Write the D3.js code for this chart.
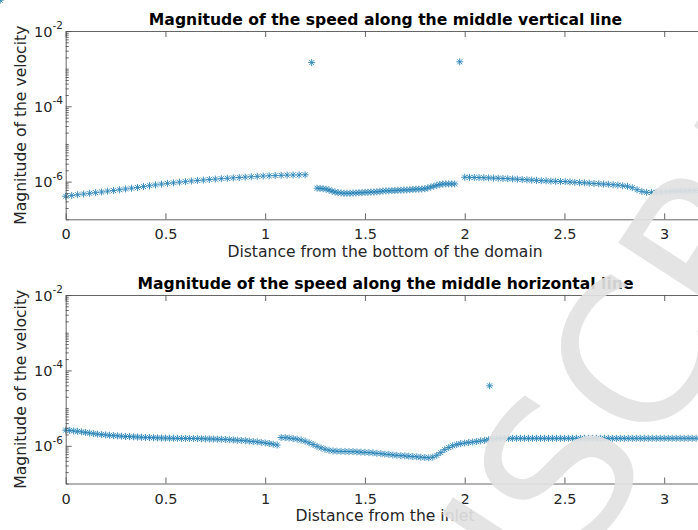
<!DOCTYPE html>
<html><head><meta charset="utf-8">
<script src="https://cdn.jsdelivr.net/npm/d3@7"></script>
<style>
html,body{margin:0;padding:0;background:#fff;}
svg{display:block;font-family:"DejaVu Sans",sans-serif;}
</style></head>
<body><svg id="c" width="698" height="530"></svg>
<script>
// ---------- DATA ----------
const titles = ["Magnitude of the speed along the middle vertical line",
                "Magnitude of the speed along the middle horizontal line"];
const xLabels = ["Distance from the bottom of the domain", "Distance from the inlet"];
const yLabel = "Magnitude of the velocity";
const xTicks = [0, 0.5, 1, 1.5, 2, 2.5, 3];
const xTickLabels = ["0", "0.5", "1", "1.5", "2", "2.5", "3"];
const yTickExps = [-2, -4, -6];

// vertical line profile
const topX = [
 0,0.03,0.06,0.09,0.12,0.15,0.18,0.21,0.24,0.27,0.30,0.33,0.36,0.39,0.42,0.45,0.48,0.51,0.54,0.57,
 0.60,0.63,0.66,0.69,0.72,0.75,0.78,0.81,0.84,0.87,0.90,0.93,0.96,0.99,1.02,1.05,1.08,1.11,1.14,1.17,1.20,
 1.233,
 1.260,1.275,1.290,1.305,1.320,1.335,1.350,1.365,1.380,1.395,1.410,1.425,1.440,1.455,1.470,1.485,
 1.500,1.515,1.530,1.545,1.560,1.575,1.590,1.605,1.620,1.635,1.650,1.665,1.680,1.695,1.710,1.725,
 1.740,1.755,1.770,1.785,1.800,1.815,1.830,1.845,1.860,1.875,1.890,1.905,1.920,1.935,1.950,
 1.975,
 2.000,2.024,2.048,2.072,2.096,2.120,2.144,2.168,2.192,2.216,2.240,2.264,2.288,2.312,2.336,2.360,
 2.384,2.408,2.432,2.456,2.480,2.504,2.528,2.552,2.576,2.600,2.624,2.648,2.672,2.696,2.720,2.744,
 2.768,2.792,2.816,2.840,2.864,2.888,2.912,2.936,2.960,2.984,3.008,3.032,3.056,3.080,3.104,3.128,
 3.152,3.176,3.200];
const topY = [
 4.1e-7,4.3e-7,4.5e-7,4.7e-7,4.9e-7,5.1e-7,5.3e-7,5.6e-7,5.8e-7,6.1e-7,6.4e-7,6.7e-7,7.0e-7,7.4e-7,7.8e-7,
 8.2e-7,8.6e-7,9.0e-7,9.3e-7,9.7e-7,1.00e-6,1.04e-6,1.07e-6,1.10e-6,1.14e-6,1.17e-6,1.20e-6,1.23e-6,1.26e-6,
 1.29e-6,1.32e-6,1.35e-6,1.38e-6,1.41e-6,1.43e-6,1.45e-6,1.47e-6,1.49e-6,1.50e-6,1.51e-6,1.52e-6,
 1.45e-3,
 6.7e-7,6.6e-7,6.5e-7,6.3e-7,6.0e-7,5.6e-7,5.3e-7,5.1e-7,5.0e-7,4.9e-7,4.9e-7,4.9e-7,5.0e-7,5.0e-7,5.1e-7,5.1e-7,
 5.2e-7,5.2e-7,5.3e-7,5.3e-7,5.4e-7,5.5e-7,5.6e-7,5.7e-7,5.7e-7,5.8e-7,5.8e-7,5.9e-7,5.9e-7,6.0e-7,6.0e-7,6.1e-7,
 6.2e-7,6.3e-7,6.3e-7,6.4e-7,6.5e-7,6.8e-7,7.2e-7,7.6e-7,8.0e-7,8.4e-7,8.6e-7,8.7e-7,8.7e-7,8.7e-7,8.7e-7,
 1.52e-3,
 1.31e-6,1.30e-6,1.29e-6,1.28e-6,1.27e-6,1.26e-6,1.24e-6,1.23e-6,1.21e-6,1.20e-6,1.18e-6,1.16e-6,1.14e-6,1.12e-6,
 1.10e-6,1.08e-6,1.06e-6,1.05e-6,1.03e-6,1.02e-6,1.01e-6,1.00e-6,9.8e-7,9.6e-7,9.4e-7,9.3e-7,9.1e-7,8.9e-7,8.8e-7,
 8.6e-7,8.5e-7,8.3e-7,8.1e-7,7.8e-7,7.5e-7,6.9e-7,6.1e-7,5.5e-7,5.2e-7,5.1e-7,5.2e-7,5.3e-7,5.4e-7,5.5e-7,5.6e-7,
 5.7e-7,5.7e-7,5.8e-7,5.8e-7,5.8e-7,5.8e-7];

// horizontal line profile
const botX = [
 0,0.02,0.04,0.06,0.08,0.10,0.12,0.14,0.16,0.18,0.20,0.22,0.24,0.26,0.28,0.30,0.32,0.34,0.36,0.38,
 0.40,0.42,0.44,0.46,0.48,0.50,0.52,0.54,0.56,0.58,0.60,0.62,0.64,0.66,0.68,0.70,0.72,0.74,0.76,0.78,
 0.80,0.82,0.84,0.86,0.88,0.90,0.92,0.94,0.96,0.98,1.00,1.02,1.04,1.06,
 1.08,1.10,1.12,1.14,1.16,1.18,1.20,1.22,1.24,1.26,1.28,1.30,1.32,1.34,1.36,1.38,1.40,1.42,1.44,1.46,
 1.48,1.50,1.52,1.54,1.56,1.58,1.60,1.62,1.64,1.66,1.68,1.70,1.72,1.74,1.76,1.78,1.80,1.82,1.84,1.86,
 1.88,1.90,1.92,1.94,1.96,1.98,2.00,2.02,2.04,2.06,2.08,2.10,2.12,2.125,2.14,
 2.16,2.18,2.20,2.22,2.24,2.26,2.28,2.30,2.32,2.34,2.36,2.38,2.40,2.42,2.44,2.46,2.48,2.50,2.52,2.54,
 2.56,2.58,2.60,2.62,2.64,2.66,2.68,2.70,2.72,2.74,2.76,2.78,2.80,2.82,2.84,2.86,2.88,2.90,2.92,2.94,
 2.96,2.98,3.00,3.02,3.04,3.06,3.08,3.10,3.12,3.14,3.16,3.18,3.20];
const botY = [
 2.60e-6,2.55e-6,2.48e-6,2.42e-6,2.34e-6,2.26e-6,2.18e-6,2.10e-6,2.04e-6,1.98e-6,1.94e-6,1.90e-6,1.86e-6,1.83e-6,
 1.80e-6,1.77e-6,1.75e-6,1.73e-6,1.71e-6,1.69e-6,1.67e-6,1.65e-6,1.64e-6,1.62e-6,1.61e-6,1.60e-6,1.59e-6,1.58e-6,
 1.58e-6,1.57e-6,1.57e-6,1.56e-6,1.56e-6,1.55e-6,1.54e-6,1.53e-6,1.52e-6,1.51e-6,1.50e-6,1.49e-6,1.47e-6,1.45e-6,
 1.43e-6,1.41e-6,1.39e-6,1.36e-6,1.33e-6,1.30e-6,1.27e-6,1.23e-6,1.19e-6,1.15e-6,1.10e-6,1.05e-6,
 1.66e-6,1.64e-6,1.60e-6,1.55e-6,1.50e-6,1.42e-6,1.32e-6,1.20e-6,1.08e-6,9.7e-7,8.8e-7,8.1e-7,7.6e-7,7.3e-7,
 7.2e-7,7.1e-7,7.1e-7,7.0e-7,7.0e-7,6.9e-7,6.8e-7,6.7e-7,6.6e-7,6.5e-7,6.3e-7,6.2e-7,6.0e-7,5.9e-7,5.7e-7,5.6e-7,
 5.5e-7,5.4e-7,5.3e-7,5.2e-7,5.1e-7,5.0e-7,4.9e-7,4.8e-7,5.0e-7,5.6e-7,6.6e-7,7.9e-7,9.0e-7,1.00e-6,1.08e-6,
 1.14e-6,1.18e-6,1.22e-6,1.26e-6,1.30e-6,1.35e-6,1.40e-6,1.45e-6,3.9e-5,1.52e-6,
 1.57e-6,1.58e-6,1.58e-6,1.58e-6,1.58e-6,1.58e-6,1.58e-6,1.58e-6,1.58e-6,1.58e-6,1.58e-6,1.58e-6,1.58e-6,1.58e-6,
 1.58e-6,1.58e-6,1.58e-6,1.58e-6,1.58e-6,1.58e-6,1.58e-6,1.58e-6,1.58e-6,1.58e-6,1.58e-6,1.58e-6,1.58e-6,1.58e-6,
 1.58e-6,1.58e-6,1.58e-6,1.58e-6,1.58e-6,1.58e-6,1.58e-6,1.58e-6,1.58e-6,1.58e-6,1.58e-6,1.58e-6,1.58e-6,1.58e-6,
 1.58e-6,1.58e-6,1.58e-6,1.58e-6,1.58e-6,1.58e-6,1.58e-6,1.58e-6,1.58e-6];

const watermark = "MANUSCRIPT";

// ---------- DRAW ----------
const svg = d3.select("#c");
const axisColor = "#555555", textColor = "#262626", markColor = "#2a84b8";
const left = 65.7, right = 704.1;
const panels = [
  {top: 31, bottom: 219.3, xs: topX, ys: topY, title: titles[0], xl: xLabels[0], titleY: 25, tickY: 239.5, xlY: 256.5},
  {top: 295, bottom: 483.5, xs: botX, ys: botY, title: titles[1], xl: xLabels[1], titleY: 288.5, tickY: 503.5, xlY: 521}
];

const asterisk = {
  draw(ctx, size) {
    const r = Math.sqrt(size) / 2, d = r * 0.7071;
    ctx.moveTo(-r, 0); ctx.lineTo(r, 0);
    ctx.moveTo(0, -r); ctx.lineTo(0, r);
    ctx.moveTo(-d, -d); ctx.lineTo(d, d);
    ctx.moveTo(-d, d); ctx.lineTo(d, -d);
  }
};
const sym = d3.symbol().type(asterisk).size(49);

const minorVals = [];
for (let e = -7; e < -2; e++) for (let k = 1; k < 10; k++) {
  const v = k * Math.pow(10, e);
  if (!(k === 1 && yTickExps.includes(e))) minorVals.push(v);
}

panels.forEach(p => {
  const x = d3.scaleLinear().domain([0, 3.2]).range([left, right]);
  const y = d3.scaleLog().domain([1e-7, 1e-2]).range([p.bottom, p.top]);
  const g = svg.append("g");

  // data
  g.append("g").selectAll("path").data(p.xs.map((v, i) => [v, p.ys[i]])).join("path")
    .attr("transform", d => `translate(${x(d[0])},${y(d[1])})`)
    .attr("d", sym).attr("fill", "none").attr("stroke", markColor).attr("stroke-width", 0.9);

  // x axes
  const xb = g.append("g").attr("transform", `translate(0,${p.bottom})`)
    .call(d3.axisBottom(x).tickValues(xTicks).tickFormat((d, i) => xTickLabels[i]).tickSizeInner(-6).tickSizeOuter(0).tickPadding(9.5));
  const xt = g.append("g").attr("transform", `translate(0,${p.top})`)
    .call(d3.axisTop(x).tickValues(xTicks).tickFormat("").tickSizeInner(-6).tickSizeOuter(0));
  // y axes
  const yl = g.append("g").attr("transform", `translate(${left},0)`)
    .call(d3.axisLeft(y).tickValues(yTickExps.map(e => Math.pow(10, e))).tickFormat("").tickSizeInner(-6).tickSizeOuter(0));
  const ym = g.append("g").attr("transform", `translate(${left},0)`)
    .call(d3.axisLeft(y).tickValues(minorVals).tickFormat("").tickSizeInner(-3).tickSizeOuter(0));
  ym.select(".domain").remove();
  const yr = g.append("g").attr("transform", `translate(${right},0)`)
    .call(d3.axisRight(y).tickValues(yTickExps.map(e => Math.pow(10, e))).tickFormat("").tickSizeInner(-6).tickSizeOuter(0));

  [xb, xt, yl, ym, yr].forEach(a => {
    a.selectAll("path,line").attr("stroke", axisColor).attr("stroke-width", 0.9);
    a.selectAll("text").attr("fill", textColor).attr("font-size", 14.5).attr("font-family", "DejaVu Sans");
  });
  xb.selectAll("text").attr("dy", null).attr("y", p.tickY - p.bottom);

  // y tick labels with superscripts
  yTickExps.forEach(e => {
    const t = g.append("text").attr("x", 63).attr("y", y(Math.pow(10, e)) + 5.5)
      .attr("text-anchor", "end").attr("fill", textColor).attr("font-size", 14.5);
    t.append("tspan").text("10");
    t.append("tspan").attr("font-size", 10.5).attr("dy", -7.5).text("-" + Math.abs(e));
  });

  // title, labels
  g.append("text").attr("x", 385.5).attr("y", p.titleY).attr("text-anchor", "middle")
    .attr("font-weight", "bold").attr("font-size", 15.6).attr("fill", "#000").text(p.title);
  g.append("text").attr("x", 385).attr("y", p.xlY).attr("text-anchor", "middle")
    .attr("font-size", 15.6).attr("fill", textColor).text(p.xl);
  g.append("text").attr("transform", `translate(25.5,${(p.top + p.bottom) / 2}) rotate(-90)`)
    .attr("text-anchor", "middle").attr("font-size", 15.6).attr("fill", textColor).text(yLabel);
});

// watermark
svg.append("text").attr("transform", "translate(255,1070) rotate(-57)")
  .attr("font-size", 200).attr("fill", "#e2e2e2").attr("opacity", 0.92)
  .attr("font-family", "DejaVu Sans").text(watermark);
</script></body></html>
